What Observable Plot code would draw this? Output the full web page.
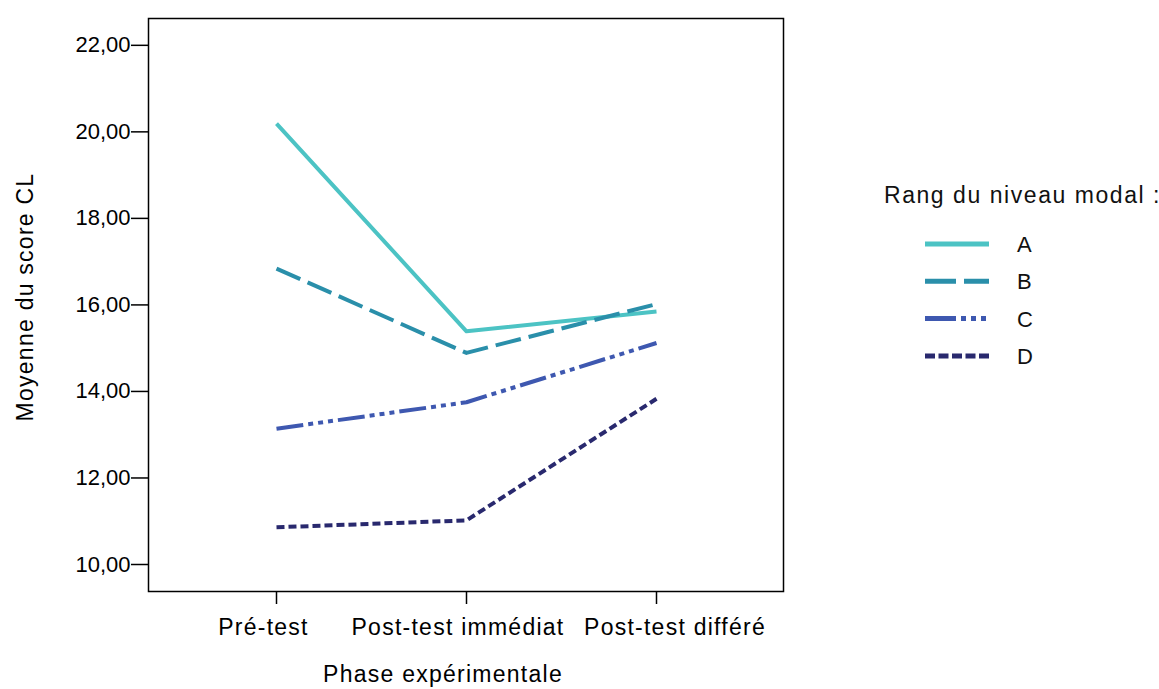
<!DOCTYPE html>
<html>
<head>
<meta charset="utf-8">
<script src="https://cdn.jsdelivr.net/npm/d3@7"></script>
<script src="https://cdn.jsdelivr.net/npm/@observablehq/plot@0.6"></script>
<style>
  html, body { margin: 0; padding: 0; background: #fff; }
  #wrap { position: relative; width: 1159px; height: 689px; font-family: "Liberation Sans", Arial, sans-serif; }
  #wrap svg.plot text { font-family: "Liberation Sans", Arial, sans-serif; fill: #000; letter-spacing: 1.25px; }
  #wrap svg.plot g[aria-label="y-axis tick label"] text { letter-spacing: 0; }
  #legend { position: absolute; left: 884px; top: 180px; width: 275px; overflow: visible; }
  #legend .title { font-size: 23px; letter-spacing: 1.55px; color: #111; line-height: 30px; white-space: nowrap; }
</style>
</head>
<body>
<div id="wrap"></div>
<script>
// ---- data ----
const phases = ["Pré-test", "Post-test immédiat", "Post-test différé"];
const seriesNames = ["A", "B", "C", "D"];
const valuesA = [20.19, 15.39, 15.85];
const valuesB = [16.84, 14.89, 16.02];
const valuesC = [13.14, 13.75, 15.12];
const valuesD = [10.86, 11.02, 13.83];
const yTicks = [10, 12, 14, 16, 18, 20, 22];
const xTitle = "Phase expérimentale";
const yTitle = "Moyenne du score CL";
const legendTitle = "Rang du niveau modal :";

// ---- styles ----
const seriesValues = [valuesA, valuesB, valuesC, valuesD];
const colors = ["#4cc3c4", "#2a8faa", "#3e58b0", "#29296e"];
const dashes = [null, "26,8", "27,5,5,5,5,5,5,5", "8,4"];
const legendDashes = [null, "31,8", "31,5,5,5,5,5,5,5", "10,3.5"];
const xLabelShift = [-13, -8.5, 18.5];

const rows = [];
seriesNames.forEach((s, i) => phases.forEach((p, j) => rows.push({series: s, phase: p, value: seriesValues[i][j]})));

const fmt = d => d3.format(".2f")(d).replace(".", ",");

const lineMarks = seriesNames.map((s, i) => Plot.line(rows.filter(r => r.series === s), {
  x: "phase", y: "value",
  stroke: colors[i], strokeWidth: 4,
  strokeDasharray: dashes[i] || undefined,
  strokeLinejoin: "round", strokeLinecap: "butt"
}));

const xLabelMarks = phases.map((p, i) => Plot.text([p], {
  x: d => d, frameAnchor: "bottom", text: d => d,
  dx: xLabelShift[i], dy: 27, lineAnchor: "top", fontSize: 23, fill: "#000"
}));

const chart = Plot.plot({
  width: 1159,
  height: 689,
  marginLeft: 148,
  marginRight: 376,
  marginTop: 18,
  marginBottom: 98,
  style: {fontFamily: "Liberation Sans, Arial, sans-serif", background: "#fff"},
  x: {type: "point", domain: phases, padding: 0.667, label: null},
  y: {domain: [9.376, 22.62], label: null},
  marks: [
    ...lineMarks,
    Plot.frame({stroke: "#000", strokeWidth: 1.5}),
    Plot.axisY({ticks: yTicks, tickFormat: fmt, tickSize: 17, tickPadding: 1, fontSize: 22, label: null, strokeWidth: 1.5}),
    Plot.axisX({tickSize: 13, tickFormat: () => "", label: null, strokeWidth: 1.5}),
    ...xLabelMarks,
    Plot.text([xTitle], {frameAnchor: "bottom", text: d => d, dx: -23, dy: 90, fontSize: 23, fill: "#000", lineAnchor: "bottom"}),
    Plot.text([yTitle], {frameAnchor: "left", text: d => d, rotate: -90, dx: -123, dy: -8, fontSize: 23, fill: "#000", textAnchor: "middle", lineAnchor: "middle"})
  ]
});
chart.classList.add("plot");
document.getElementById("wrap").appendChild(chart);

// ---- legend ----
const legend = d3.select("#wrap").append("div").attr("id", "legend");
legend.append("div").attr("class", "title").text(legendTitle);
const lsvg = legend.append("svg").attr("width", 200).attr("height", 160).style("display", "block").style("margin-top", "8px");
seriesNames.forEach((s, i) => {
  const y = 26 + i * 37.3;
  lsvg.append("line").attr("x1", 41).attr("x2", 105).attr("y1", y).attr("y2", y)
    .attr("stroke", colors[i]).attr("stroke-width", 5)
    .attr("stroke-dasharray", legendDashes[i]);
  lsvg.append("text").attr("x", 133).attr("y", y).attr("dy", "0.36em")
    .attr("font-size", 22).attr("font-family", "Liberation Sans, Arial, sans-serif").attr("fill", "#111").text(s);
});
</script>
</body>
</html>
